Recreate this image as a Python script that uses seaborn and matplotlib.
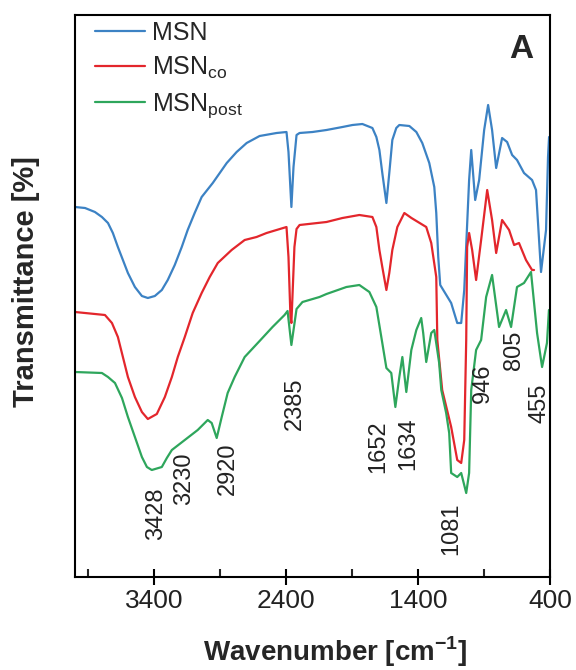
import matplotlib
matplotlib.use('Agg')
import pandas as pd
import matplotlib.pyplot as plt
import seaborn as sns
from matplotlib.ticker import FixedLocator

# FTIR spectra (wavenumber in cm-1, transmittance in arbitrary offset units)
msn_wn = [4000, 3924, 3849, 3796, 3750, 3713, 3675, 3637, 3599, 3546, 3493, 3448, 3395, 3342,
          3297, 3244, 3191, 3146, 3093, 3040, 2956, 2850, 2775, 2699, 2601, 2472, 2397, 2382,
          2360, 2344, 2321, 2298, 2200, 2094, 1973, 1897, 1822, 1746, 1716, 1693, 1671, 1640,
          1618, 1595, 1565, 1542, 1466, 1413, 1368, 1315, 1277, 1262, 1247, 1232, 1149, 1103,
          1073, 1050, 1013, 997, 967, 937, 899, 869, 839, 808, 763, 725, 687, 650, 597, 536,
          506, 468, 430, 415, 407]
msn_t = [370, 369, 365, 360, 354, 344, 330, 317, 304, 290, 281, 279, 281, 287,
         297, 312, 330, 347, 364, 380, 394, 414, 425, 434, 441, 444, 445, 425,
         370, 410, 442, 444, 445, 447, 450, 452, 453, 449, 440, 427, 404, 374,
         404, 437, 449, 452, 451, 445, 434, 414, 390, 364, 320, 292, 274, 254,
         254, 287, 397, 427, 377, 397, 447, 472, 447, 409, 439, 435, 422, 417, 404, 397,
         387, 305, 347, 420, 440]

co_wn = [4000, 3773, 3720, 3675, 3637, 3599, 3546, 3493, 3448, 3380, 3319, 3266, 3221, 3168,
         3108, 3040, 2979, 2918, 2813, 2714, 2624, 2548, 2397, 2382, 2367, 2360, 2352, 2337,
         2321, 2298, 2094, 1973, 1845, 1746, 1716, 1693, 1671, 1640, 1618, 1595, 1557, 1504,
         1450, 1338, 1300, 1262, 1254, 1217, 1149, 1103, 1073, 1050, 1035, 1028, 1013, 990,
         960, 922, 876, 839, 808, 763, 710, 672, 635, 582, 536, 521]
co_t = [265, 262, 254, 240, 220, 200, 180, 165, 158, 163, 180, 200, 220, 240,
        264, 284, 300, 314, 327, 337, 340, 344, 350, 320, 260, 254, 280, 330,
        348, 352, 355, 359, 362, 360, 350, 327, 310, 287, 304, 327, 350, 364,
        359, 350, 334, 300, 237, 187, 150, 117, 114, 137, 237, 330, 344, 327,
        297, 337, 387, 357, 324, 357, 347, 332, 334, 317, 307, 307]

post_wn = [4000, 3796, 3750, 3697, 3644, 3599, 3546, 3493, 3455, 3418, 3342, 3304, 3266, 3168,
           3070, 2994, 2964, 2926, 2888, 2843, 2790, 2714, 2601, 2503, 2412, 2389, 2360, 2321,
           2276, 2147, 2094, 1943, 1845, 1769, 1716, 1671, 1640, 1603, 1572, 1542, 1519, 1489,
           1451, 1413, 1376, 1361, 1338, 1300, 1277, 1240, 1224, 1187, 1164, 1149, 1103, 1073,
           1035, 1013, 997, 960, 922, 884, 839, 786, 733, 695, 650, 597, 544, 498, 460, 423,
           408]
post_t = [205, 204, 200, 194, 179, 160, 140, 120, 110, 107, 110, 119, 127, 137,
          147, 157, 154, 139, 160, 184, 200, 220, 236, 250, 262, 266, 232, 268,
          275, 280, 283, 290, 292, 285, 270, 234, 209, 204, 170, 200, 220, 185,
          227, 247, 259, 244, 215, 244, 247, 214, 187, 164, 144, 104, 100, 104,
          84, 104, 187, 227, 237, 280, 302, 250, 267, 250, 290, 294, 305, 244, 210, 234,
          267]

samples = ['MSN', 'MSN_co', 'MSN_post']
legend_labels = ['MSN', r'MSN$_{\mathregular{co}}$', r'MSN$_{\mathregular{post}}$']
colors = ['#3C82C4', '#E3262C', '#2EA65C']

# band assignments written on the plot, with where the text sits
peak_labels = ['3428', '3230', '2920', '2385', '1652', '1634', '1081', '946', '805', '455']
peak_text_x = [3387, 3176, 2843, 2336, 1701, 1474, 1149, 907, 672, 483]
peak_text_y = [37, 72, 82, 147, 104, 107, 22, 174, 207, 154]

df = pd.concat([
    pd.DataFrame({'wavenumber': msn_wn, 'transmittance': msn_t, 'sample': samples[0]}),
    pd.DataFrame({'wavenumber': co_wn, 'transmittance': co_t, 'sample': samples[1]}),
    pd.DataFrame({'wavenumber': post_wn, 'transmittance': post_t, 'sample': samples[2]}),
])

sns.set_style('white')
plt.rcParams['font.family'] = ['Liberation Sans', 'DejaVu Sans']
plt.rcParams['mathtext.fontset'] = 'custom'
plt.rcParams['mathtext.rm'] = 'Liberation Sans'
plt.rcParams['mathtext.bf'] = 'Liberation Sans:bold'

fig = plt.figure(figsize=(5.76, 6.70), dpi=100)
ax = fig.add_axes([75 / 576, 93 / 670, 475 / 576, 562 / 670])

sns.lineplot(data=df, x='wavenumber', y='transmittance', hue='sample',
             palette=colors, sort=False, estimator=None, linewidth=1.6, ax=ax)

ax.set_xlim(4000, 400)
ax.set_ylim(0, 562)
ax.set_xticks([3400, 2400, 1400, 400])
ax.xaxis.set_minor_locator(FixedLocator([3900, 2900, 1900, 900]))
ax.set_yticks([])
ax.tick_params(axis='x', which='major', bottom=True, direction='inout', length=12,
               width=1.5, labelsize=19, pad=3, colors='black')
ax.tick_params(axis='x', which='minor', bottom=True, direction='in', length=6, width=1.5)
ax.tick_params(axis='x', labelcolor='#222222')
for s in ax.spines.values():
    s.set_linewidth(1.5)
    s.set_color('black')

ax.set_xlabel(r'Wavenumber [cm$^{\mathbf{-1}}$]', fontsize=20, fontweight='bold')
ax.set_ylabel('Transmittance [%]', fontsize=21, fontweight='bold')
ax.xaxis.set_label_coords(0.547, -0.103)
ax.yaxis.set_label_coords(-0.074, 0.525)

for lab, px, py in zip(peak_labels, peak_text_x, peak_text_y):
    ax.text(px, py, lab, rotation=90, ha='center', va='bottom', fontsize=17, color='#222222')

ax.text(0.939, 0.938, 'A', transform=ax.transAxes, ha='center', va='center',
        fontsize=24, fontweight='bold')

handles, _ = ax.get_legend_handles_labels()
ax.legend(handles, legend_labels, loc='upper left', bbox_to_anchor=(0.042, 0.989),
          frameon=False, fontsize=18, handlelength=2.0, handletextpad=0.3,
          labelspacing=0.4, borderpad=0, borderaxespad=0)

fig.savefig('out.png', dpi=100)
